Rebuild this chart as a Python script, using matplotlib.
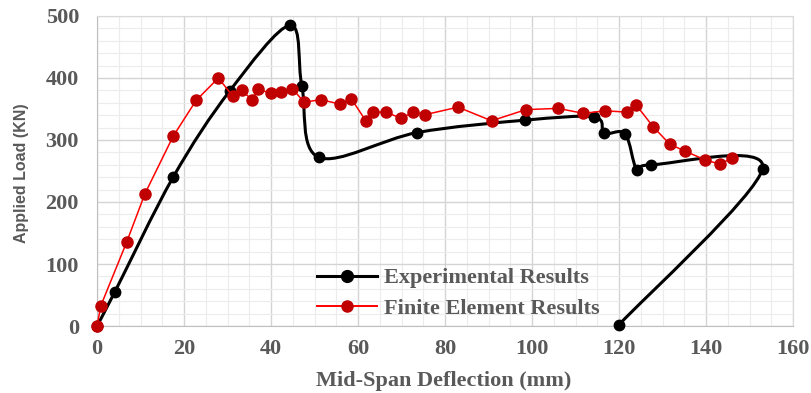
import numpy as np
import matplotlib
matplotlib.use('Agg')
import matplotlib.pyplot as plt
from matplotlib.path import Path
from matplotlib.patches import PathPatch
from matplotlib.lines import Line2D

# 试验结果 (mm, kN)
exp_x = [0.0, 4.1, 17.5, 30.5, 44.4, 47.1, 51.0, 73.6, 98.4, 114.3, 116.6, 121.4, 124.1, 127.4, 153.0, 120.0]
exp_y = [0, 55, 240, 379, 485, 387, 272, 312, 332, 337, 311, 310, 252, 260, 254, 2]

# 有限元结果
fe_x = [0, 0.9, 6.8, 11.0, 17.5, 22.8, 27.9, 31.2, 33.3, 35.6, 37.1, 40.0, 42.2, 44.9, 47.6,
        51.4, 55.9, 58.5, 61.8, 63.4, 66.4, 69.9, 72.7, 75.5, 83.0, 90.7, 98.6, 106.0,
        111.8, 116.8, 121.9, 124.0, 127.9, 131.7, 135.2, 139.8, 143.2, 146.0]
fe_y = [0, 33, 135, 213, 306, 364, 400, 371, 380, 365, 382, 375, 377, 383, 361,
        365, 358, 366, 331, 345, 345, 335, 345, 341, 353, 331, 349, 351,
        343, 347, 345, 356, 321, 293, 282, 268, 261, 271]

x_ticks = [0, 20, 40, 60, 80, 100, 120, 140, 160]
y_ticks = [0, 100, 200, 300, 400, 500]

txt_color = '#595959'
serif = 'Liberation Serif'
fs = 16


def smooth_path(xs, ys):
    # 类似Excel平滑线：Catmull-Rom 转三次贝塞尔
    pts = np.column_stack([xs, ys]).astype(float)
    n = len(pts)
    verts = [pts[0]]
    codes = [Path.MOVETO]
    for i in range(n - 1):
        p0 = pts[max(i - 1, 0)]
        p1 = pts[i]
        p2 = pts[i + 1]
        p3 = pts[min(i + 2, n - 1)]
        verts += [p1 + (p2 - p0) / 6, p2 - (p3 - p1) / 6, p2]
        codes += [Path.CURVE4] * 3
    return Path(verts, codes)


fig = plt.figure(figsize=(8.11, 3.93), dpi=100)
ax = fig.add_axes([97 / 811, 1 - 326 / 393, 696 / 811, 310 / 393])

ax.set_xlim(0, 160)
ax.set_ylim(0, 500)
ax.set_xticks(x_ticks)
ax.set_yticks(y_ticks)
ax.set_xticks(np.arange(0, 161, 5), minor=True)
ax.set_yticks(np.arange(0, 501, 20), minor=True)
ax.grid(which='major', color='#d4d4d4', lw=1.0, zorder=0)
ax.grid(which='minor', color='#ececec', lw=0.8, zorder=0)
ax.set_axisbelow(True)
for s in ['top', 'right']:
    ax.spines[s].set_color('#d9d9d9')
for s in ['left', 'bottom']:
    ax.spines[s].set_color('#bfbfbf')
ax.tick_params(which='both', length=0)
ax.tick_params(axis='x', pad=9)
ax.tick_params(axis='y', pad=13)
for lab in ax.get_xticklabels() + ax.get_yticklabels():
    lab.set_fontfamily(serif)
    lab.set_fontweight('bold')
    lab.set_fontsize(fs)
    lab.set_color(txt_color)

# 试验曲线（平滑）
ax.add_patch(PathPatch(smooth_path(exp_x, exp_y), fill=False, ec='black', lw=2.2, zorder=3))
ax.plot(exp_x, exp_y, 'o', color='black', ms=7.5, zorder=4, clip_on=False)

# 有限元曲线
ax.plot(fe_x, fe_y, '-', color='#ff0000', lw=1.1, zorder=5, clip_on=False)
ax.plot(fe_x, fe_y, 'o', color='#c00000', mec='#c00000', ms=8, zorder=6, clip_on=False)

handles = [
    Line2D([], [], color='black', lw=2.2, marker='o', ms=8.5),
    Line2D([], [], color='#ff0000', lw=1.4, marker='o', mfc='#c00000', mec='#c00000', ms=8),
]
leg = ax.legend(handles, ['Experimental Results', 'Finite Element Results'],
                loc='center left', bbox_to_anchor=(0.30, 0.105), frameon=False,
                handlelength=2.7, handletextpad=0.3, labelspacing=0.45, borderpad=0,
                prop={'family': serif, 'weight': 'bold', 'size': fs})
for t in leg.get_texts():
    t.set_color(txt_color)

fig.text(22 / 811, 1 - 173 / 393, 'Applied Load (KN)', rotation=90, ha='center', va='center',
         family='Liberation Sans', weight='bold', size=11.5, color=txt_color)
fig.text(444 / 811, 1 - 381 / 393, 'Mid-Span Deflection (mm)', ha='center', va='center',
         family=serif, weight='bold', size=fs, color=txt_color)

fig.savefig('out.png', dpi=100)
